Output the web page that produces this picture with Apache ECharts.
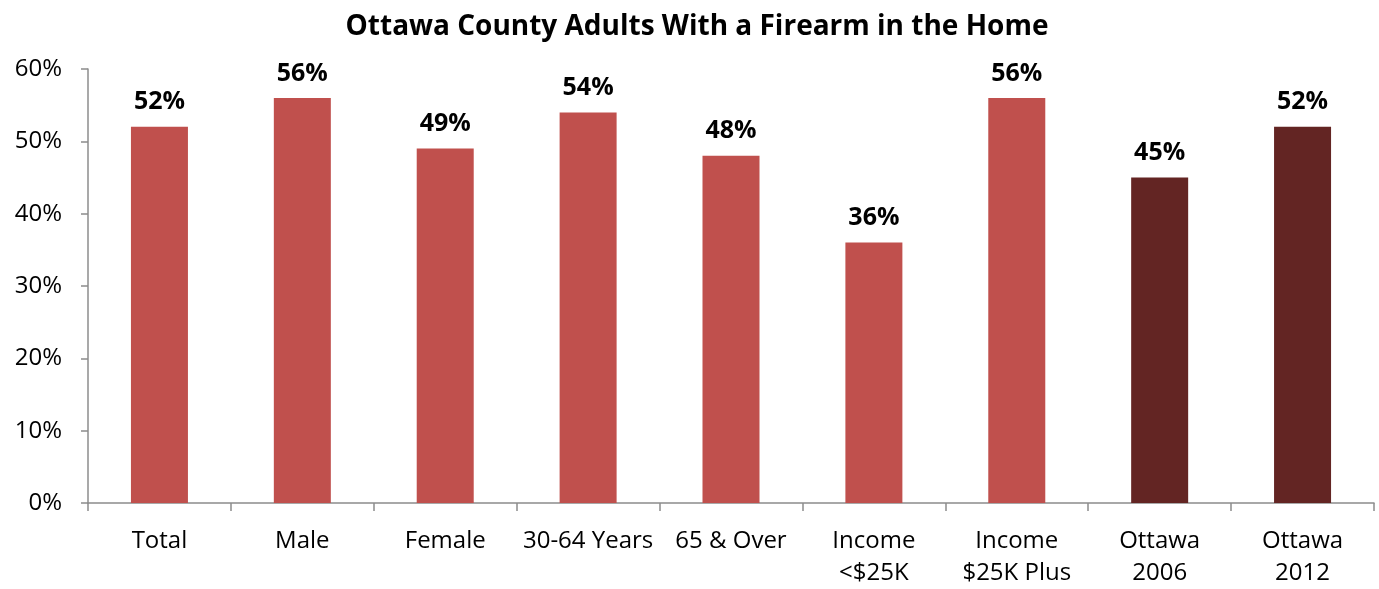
<!DOCTYPE html>
<html>
<head>
<meta charset="utf-8">
<title>Ottawa County Adults With a Firearm in the Home</title>
<script src="https://cdn.jsdelivr.net/npm/echarts@6/dist/echarts.min.js"></script>
<style>
  html, body { margin: 0; padding: 0; background: #ffffff; }
  #chart { width: 1379px; height: 589px; }
</style>
</head>
<body>
<div id="chart"></div>
<script>
// Share of adults reporting a firearm in the home, by group (percent)
const categories = ['Total', 'Male', 'Female', '30-64 Years', '65 & Over', 'Income\n<$25K', 'Income\n$25K Plus', 'Ottawa\n2006', 'Ottawa\n2012'];
const values = [52, 56, 49, 54, 48, 36, 56, 45, 52];
// The county-wide trend bars use the darker shade
const trendFlags = [false, false, false, false, false, false, false, true, true];
const yTicks = { min: 0, max: 60, interval: 10 };

const lightRed = '#C0504D';
const darkRed = '#632523';
const axisGray = '#8C8C8C';
const fontFamily = '"Open Sans", "Noto Sans", sans-serif';

const chart = echarts.init(document.getElementById('chart'));
chart.setOption({
  animation: false,
  backgroundColor: '#ffffff',
  title: {
    text: 'Ottawa County Adults With a Firearm in the Home',
    left: 692,
    textAlign: 'center',
    top: 8,
    textStyle: { fontFamily: fontFamily, fontWeight: 'bold', fontSize: 28, color: '#000000' }
  },
  grid: { left: 88, right: 5, top: 69, bottom: 80.5, containLabel: false },
  xAxis: {
    type: 'category',
    data: categories,
    axisLine: { lineStyle: { color: axisGray, width: 1.5 } },
    axisTick: { show: true, length: 8, alignWithLabel: false, lineStyle: { color: axisGray, width: 1.5 } },
    axisLabel: {
      interval: 0,
      margin: 22,
      fontFamily: fontFamily,
      fontSize: 24,
      lineHeight: 32,
      color: '#000000'
    }
  },
  yAxis: {
    type: 'value',
    min: yTicks.min,
    max: yTicks.max,
    interval: yTicks.interval,
    splitLine: { show: false },
    axisLine: { show: true, lineStyle: { color: axisGray, width: 1.5 } },
    axisTick: { show: true, length: 7, lineStyle: { color: axisGray, width: 1.5 } },
    axisLabel: {
      margin: 26,
      formatter: '{value}%',
      fontFamily: fontFamily,
      fontSize: 24,
      color: '#000000'
    }
  },
  series: [{
    type: 'bar',
    barWidth: 57,
    data: values.map((v, i) => ({
      value: v,
      itemStyle: { color: trendFlags[i] ? darkRed : lightRed }
    })),
    label: {
      show: true,
      position: 'top',
      distance: 12,
      formatter: '{c}%',
      fontFamily: fontFamily,
      fontWeight: 'bold',
      fontSize: 25,
      color: '#000000'
    }
  }]
});
</script>
</body>
</html>
